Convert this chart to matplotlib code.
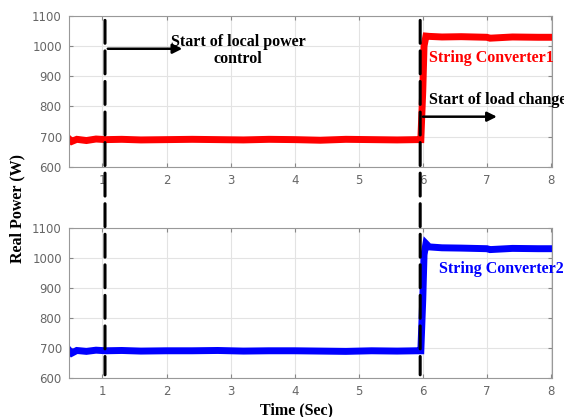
import numpy as np
import matplotlib
matplotlib.use('Agg')
from matplotlib import pyplot as plt
from matplotlib.patches import ConnectionPatch

# time (s) and real power (W)
time_pts = [0.47, 0.52, 0.6, 0.75, 0.9, 1.05, 1.3, 1.6, 2.0, 2.4, 2.8, 3.2, 3.6, 4.0, 4.4, 4.8, 5.2, 5.6, 5.9,
            5.97, 6.0, 6.02, 6.05, 6.1, 6.3, 6.6, 7.0, 7.05, 7.4, 7.8, 8.0]
power_conv1 = [694, 684, 691, 687, 692, 690, 691, 689, 690, 691, 690, 689, 691, 690, 688, 691, 690, 689, 690,
               690, 850, 1000, 1033, 1032, 1030, 1031, 1029, 1026, 1030, 1029, 1029]
power_conv2 = [694, 682, 691, 688, 692, 690, 691, 689, 690, 690, 691, 689, 690, 690, 689, 688, 690, 689, 690,
               690, 860, 1010, 1047, 1036, 1033, 1032, 1030, 1027, 1031, 1030, 1030]

t_local = 1.04
t_load = 5.96

fig = plt.figure(figsize=(5.64, 4.17), dpi=100)
ax1 = fig.add_axes([0.122, 0.600, 0.857, 0.362])
ax2 = fig.add_axes([0.122, 0.094, 0.857, 0.360])

for ax, y, c in [(ax1, power_conv1, 'red'), (ax2, power_conv2, 'blue')]:
    ax.plot(time_pts, y, color=c, lw=5, solid_joinstyle='miter')
    ax.set_xlim(0.475, 8.02)
    ax.set_ylim(600, 1100)
    ax.set_xticks(np.arange(1, 9))
    ax.set_yticks(np.arange(600, 1101, 100))
    ax.grid(True, color='#e3e3e3', lw=0.8)
    ax.set_axisbelow(True)
    ax.tick_params(direction='in', top=True, right=True, labelsize=8.5,
                   labelcolor='#666666', color='#888888', length=3, pad=5)
    for s in ax.spines.values():
        s.set_color('#999999')

# dashed markers through both panels
for t in [t_local, t_load]:
    con = ConnectionPatch(xyA=(t, 1085), coordsA=ax1.transData,
                          xyB=(t, 610), coordsB=ax2.transData,
                          color='black', lw=2.2, linestyle=(0, (7.5, 2.5)))
    fig.add_artist(con)

tfont = dict(family='Liberation Serif', weight='bold', fontsize=11.5)
ax1.annotate('', xy=(2.29, 991), xytext=(t_local, 991),
             arrowprops=dict(arrowstyle='-|>', color='black', lw=1.8, mutation_scale=14))
ax1.text(3.12, 1014, 'Start of local power', ha='center', va='center', **tfont)
ax1.text(3.12, 958, 'control', ha='center', va='center', **tfont)
ax1.annotate('', xy=(7.2, 766), xytext=(t_load, 766),
             arrowprops=dict(arrowstyle='-|>', color='black', lw=1.8, mutation_scale=14))
ax1.text(6.1, 822, 'Start of load change', ha='left', va='center', clip_on=False, **tfont)
ax1.text(6.1, 961, 'String Converter1', ha='left', va='center', color='red', **tfont)
ax2.text(6.26, 963, 'String Converter2', ha='left', va='center', color='blue', **tfont)

fig.text(0.03, 0.5, 'Real Power (W)', rotation=90, ha='center', va='center', **tfont)
fig.text(0.525, 0.017, 'Time (Sec)', ha='center', va='center', **tfont)

fig.savefig('out.png', dpi=100)
